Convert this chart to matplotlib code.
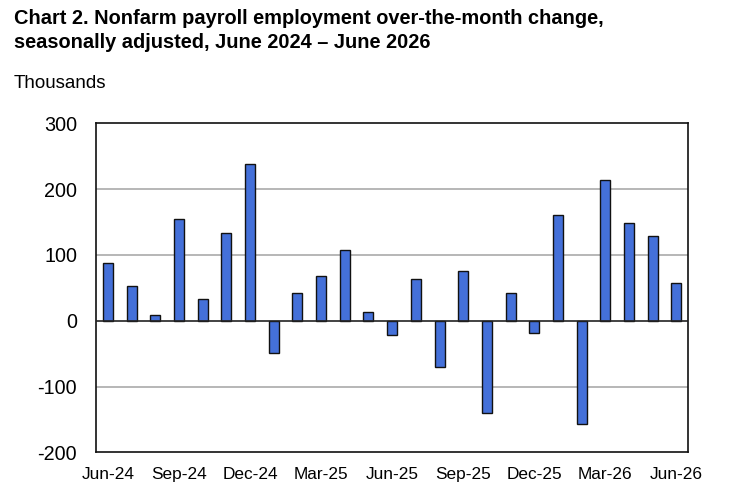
import matplotlib
matplotlib.use("Agg")
import matplotlib.pyplot as plt

months = ["Jun-24", "Jul-24", "Aug-24", "Sep-24", "Oct-24", "Nov-24", "Dec-24",
          "Jan-25", "Feb-25", "Mar-25", "Apr-25", "May-25", "Jun-25", "Jul-25",
          "Aug-25", "Sep-25", "Oct-25", "Nov-25", "Dec-25", "Jan-26", "Feb-26",
          "Mar-26", "Apr-26", "May-26", "Jun-26"]
values = [87, 53, 9, 155, 33, 134, 238, -49, 42, 68, 108, 13, -21, 64,
          -71, 76, -141, 42, -18, 160, -157, 214, 148, 129, 57]
tick_labels = ["Jun-24", "Sep-24", "Dec-24", "Mar-25", "Jun-25", "Sep-25",
               "Dec-25", "Mar-26", "Jun-26"]
y_ticks = [-200, -100, 0, 100, 200, 300]

plt.rcParams['font.family'] = ['Liberation Sans', 'DejaVu Sans']

fig = plt.figure(figsize=(7.32, 4.99), dpi=100)
ax = fig.add_axes([96/732, 1-452.3/499, (688.3-96)/732, (452.3-123.3)/499])

x = list(range(len(months)))
ax.bar(x, values, width=0.42, color='#4470d9', edgecolor='#111111', linewidth=1.0, zorder=3)
ax.axhline(0, color='#222222', linewidth=1.2, zorder=4)

ax.set_xlim(-0.5, len(months) - 0.5)
ax.set_ylim(-200, 300)
ax.set_yticks(y_ticks)
ax.set_yticklabels([str(v) for v in y_ticks], fontsize=14.2)
ax.set_xticks([months.index(m) for m in tick_labels])
ax.set_xticklabels(tick_labels, fontsize=12.4)
ax.tick_params(axis='both', length=0)
ax.tick_params(axis='y', pad=13.5)
ax.tick_params(axis='x', pad=10.5)
for v in [-100, 100, 200]:
    ax.axhline(v, color='#aaaaaa', linewidth=1.2, zorder=1)
for s in ax.spines.values():
    s.set_color('#111111')
    s.set_linewidth(1.2)

fig.text(14/732, 1-9/499, "Chart 2. Nonfarm payroll employment over-the-month change,\nseasonally adjusted, June 2024 \u2013 June 2026",
         fontsize=14.4, fontweight='bold', va='top', ha='left', linespacing=1.3)
fig.text(14/732, 1-84/499, "Thousands", fontsize=13.5, va='center', ha='left')

fig.savefig("out.png", dpi=100)
